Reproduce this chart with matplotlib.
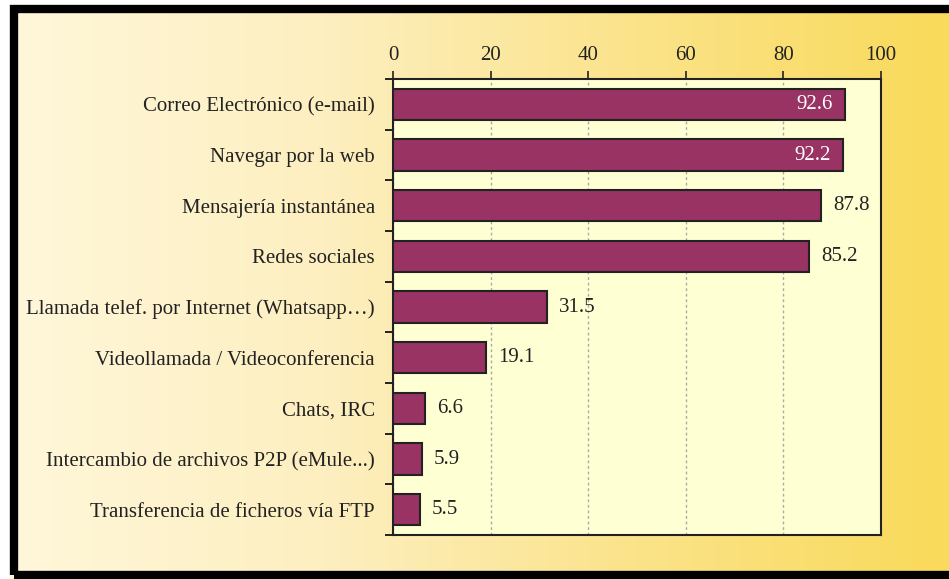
import numpy as np
import matplotlib
matplotlib.use('Agg')
import matplotlib.pyplot as plt
from matplotlib.patches import Rectangle
from matplotlib.colors import LinearSegmentedColormap

plt.rcParams['font.family'] = ['Liberation Serif', 'DejaVu Serif']

categories = ['Correo Electrónico (e-mail)', 'Navegar por la web', 'Mensajería instantánea',
              'Redes sociales', 'Llamada telef. por Internet (Whatsapp…)',
              'Videollamada / Videoconferencia', 'Chats, IRC',
              'Intercambio de archivos P2P (eMule...)', 'Transferencia de ficheros vía FTP']
values = [92.6, 92.2, 87.8, 85.2, 31.5, 19.1, 6.6, 5.9, 5.5]
xticks = [0, 20, 40, 60, 80, 100]

W, H = 949, 579
fig = plt.figure(figsize=(W / 100, H / 100), dpi=100)
fig.patch.set_facecolor('white')

# gradient background inside the black frame
bg = fig.add_axes([10 / W, 0, 1 - 10 / W, (579 - 5) / H])
cmap = LinearSegmentedColormap.from_list('bg', ['#fff7da', '#fdefc0', '#fbe38a', '#f9da5a'])
grad = np.linspace(0, 1, 256).reshape(1, -1)
bg.imshow(grad, aspect='auto', cmap=cmap, extent=[0, 1, 0, 1])
bg.set_xlim(0, 1)
bg.set_ylim(0, 1)
bg.axis('off')
fig.patches.append(Rectangle((14 / W, 1 - 575 / H), 1.0, (575 - 9) / H, transform=fig.transFigure,
                             fill=False, edgecolor='black', linewidth=6, zorder=10))

ax = fig.add_axes([393 / W, 1 - 535 / H, (881 - 393) / W, (535 - 79) / H])
ax.set_facecolor('#ffffd4')
y = np.arange(len(categories))
ax.barh(y, values, height=0.62, color='#993363', edgecolor='#222222', linewidth=1.5, zorder=3)
ax.set_xlim(0, 100)
ax.set_ylim(len(categories) - 0.5, -0.5)
ax.set_xticks(xticks)
ax.xaxis.tick_top()
ax.tick_params(axis='x', direction='out', length=6, width=1.2, labelsize=15, pad=4, colors='#222222')
ax.set_yticks(np.arange(len(categories) + 1) - 0.5, minor=False)
ax.set_yticklabels([])
ax.set_yticks(y, minor=True)
ax.set_yticklabels(categories, minor=True, fontsize=15, color='#222222')
ax.tick_params(axis='y', which='minor', length=0, pad=13)
ax.tick_params(axis='y', which='major', direction='out', length=6, width=1.2)
ax.grid(True, axis='x', linestyle=(0, (2, 2)), color='#aaaaaa', linewidth=1, zorder=1)
for s in ax.spines.values():
    s.set_color('#222222')
    s.set_linewidth(1.5)

for i, v in enumerate(values):
    if v > 90:
        ax.text(v - 2.5, i, f'{v}', ha='right', va='center', fontsize=15, color='white', zorder=4)
    else:
        ax.text(v + 2.5, i, f'{v}', ha='left', va='center', fontsize=15, color='#222222', zorder=4)

fig.savefig('out.png', dpi=100)
